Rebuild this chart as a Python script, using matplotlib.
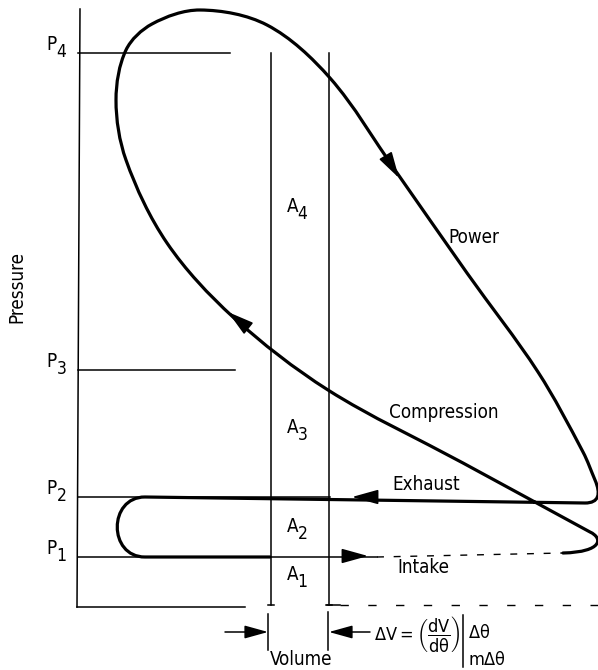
import numpy as np
import matplotlib.pyplot as plt
from matplotlib.path import Path
from matplotlib.patches import PathPatch

plt.rcParams['font.family'] = ['DejaVu Sans']
plt.rcParams['font.stretch'] = 'condensed'
plt.rcParams['mathtext.fontset'] = 'custom'
plt.rcParams['mathtext.rm'] = 'DejaVu Sans:stretch=condensed'
plt.rcParams['mathtext.it'] = 'DejaVu Sans:stretch=condensed'

# schematic coordinates (volume to the right, pressure drawn downwards in image units)
p_digits = ['1', '2', '3', '4']
p_levels = [557, 497, 370, 53]
p_line_end = [377, 145, 235, 230]

v_slab = [271, 329]          # the two volume lines bounding Delta V
a_levels = [580, 532, 433, 212]

# compression -> top -> power branch (points the cycle goes through)
loop_v = [590, 463, 328, 233, 167, 126, 116, 126, 152, 200, 267, 330, 395,
          467, 538, 583, 595]
loop_p = [532, 463, 390, 317, 243, 160, 100, 50, 24, 10, 25, 78, 170,
          273, 372, 452, 480]

stroke_names = ['Power', 'Compression', 'Exhaust', 'Intake']
stroke_v = [448, 389, 392, 397]
stroke_p = [243, 418, 490, 573]


def smooth_codes(xs, ys):
    # chord-length catmull-rom through the points, handed over as cubic beziers
    pts = np.column_stack([xs, ys]).astype(float)
    n = len(pts)
    d = np.hypot(*np.diff(pts, axis=0).T)
    tang = np.zeros_like(pts)
    tang[0] = (pts[1] - pts[0]) / d[0]
    tang[-1] = (pts[-1] - pts[-2]) / d[-1]
    for i in range(1, n - 1):
        tang[i] = (pts[i + 1] - pts[i - 1]) / (d[i - 1] + d[i])
    verts, codes = [], []
    for i in range(n - 1):
        c1 = pts[i] + tang[i] * d[i] / 3
        c2 = pts[i + 1] - tang[i + 1] * d[i] / 3
        verts += [tuple(c1), tuple(c2), tuple(pts[i + 1])]
        codes += [Path.CURVE4] * 3
    return verts, codes


def sub_label(x, y, letter, digit, size=13.5):
    ax.text(x, y, letter, fontsize=size, ha='left', va='baseline')
    ax.text(x + 10.5, y + 7, digit, fontsize=size - 1, ha='left', va='baseline')


fig = plt.figure(figsize=(5.98, 6.70), dpi=100)
ax = fig.add_axes([0, 0, 1, 1])
ax.set_xlim(0, 598)
ax.set_ylim(670, 0)
ax.axis('off')

thin = dict(color='black', lw=1.1)

# axes of the diagram
ax.plot([80, 77], [9, 607], **thin)
ax.plot([77, 245], [607, 607], **thin)
ax.plot([327, 340], [605, 605], **thin)
ax.plot([340, 598], [605, 605], color='black', lw=1.0, dashes=(6, 14))

# pressure levels
for digit, p, end in zip(p_digits, p_levels, p_line_end):
    ax.plot([78, end], [p, p], **thin)
    sub_label(46, p - 3, 'P', digit)
ax.plot([145, 330], [p_levels[1], p_levels[1]], **thin)
ax.plot([377, 563], [p_levels[0], 553], color='black', lw=1.0, dashes=(5, 7))

# the volume slab
for v in v_slab:
    ax.plot([v, v], [53, 605], **thin)
    ax.plot([v - 3, v + 3], [605, 605], **thin)
for digit, p in zip(p_digits, a_levels):
    sub_label(287, p, 'A', digit)

# the cycle
verts = [(563, 553), (603, 552), (603, 538), (loop_v[0], loop_p[0])]
codes = [Path.MOVETO, Path.CURVE4, Path.CURVE4, Path.CURVE4]
sv, sc = smooth_codes(loop_v, loop_p)
verts += sv
codes += sc
verts += [(601, 494), (599, 503), (585, 503), (145, 497),
          (108, 497), (108, 557), (145, 557), (270, 557)]
codes += [Path.CURVE4] * 3 + [Path.LINETO] + [Path.CURVE4] * 3 + [Path.LINETO]
ax.add_patch(PathPatch(Path(verts, codes), fill=False, lw=2.3, color='black',
                       capstyle='round', joinstyle='round'))

# direction arrows
arrow_tip = [(399, 178), (228, 312), (352, 497), (368, 556)]
arrow_dir = [(30, 50), (-40, -32), (-1, 0), (1, 0)]
for tip, d in zip(arrow_tip, arrow_dir):
    d = np.array(d, float) / np.hypot(*d)
    tail = np.array(tip) - 22 * d
    ax.annotate('', xy=tip, xytext=tuple(tail),
                arrowprops=dict(arrowstyle='-|>,head_length=0.9,head_width=0.25',
                                mutation_scale=18, color='black', lw=1.2,
                                shrinkA=0, shrinkB=0))

for name, v, p in zip(stroke_names, stroke_v, stroke_p):
    ax.text(v, p, name, fontsize=13.5, ha='left', va='baseline')

ax.text(17, 287, 'Pressure', fontsize=13.5, rotation=90, ha='center', va='center')

# Delta V dimension
ax.plot([268, 268], [614, 650], **thin)
ax.plot([328, 328], [612, 650], **thin)
ax.annotate('', xy=(268, 632), xytext=(225, 632),
            arrowprops=dict(arrowstyle='-|>,head_length=0.9,head_width=0.25',
                            mutation_scale=16, color='black', lw=1.1,
                            shrinkA=0, shrinkB=0))
ax.annotate('', xy=(329, 632), xytext=(370, 632),
            arrowprops=dict(arrowstyle='-|>,head_length=0.9,head_width=0.25',
                            mutation_scale=16, color='black', lw=1.1,
                            shrinkA=0, shrinkB=0))
ax.text(301, 665, 'Volume', fontsize=13.5, ha='center', va='baseline')
ax.text(374, 634, r'$\Delta V = \left(\dfrac{dV}{d\theta}\right)$', fontsize=13,
        ha='left', va='center')
ax.plot([463, 463], [615, 667], **thin)
ax.text(468, 633, r'$\Delta\theta$', fontsize=13, ha='left', va='center')
ax.text(468, 660, r'$m\Delta\theta$', fontsize=13, ha='left', va='center')

fig.savefig('out.png', dpi=100)
